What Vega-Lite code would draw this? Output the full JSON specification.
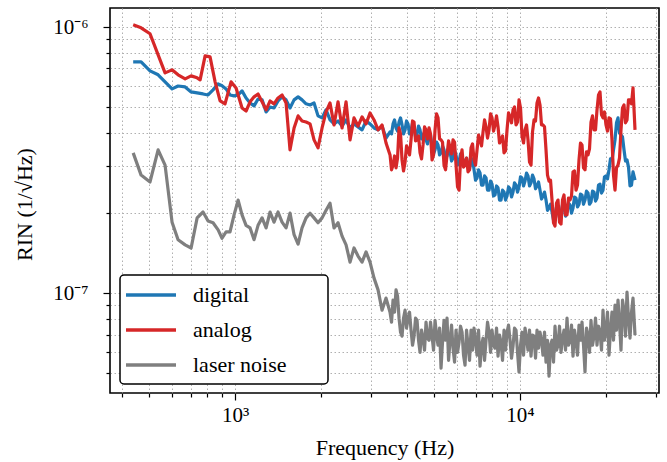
{
"$schema": "https://vega.github.io/schema/vega-lite/v6.json",
"width": 549, "height": 385,
"autosize": "none",
"padding": {"left": 110, "top": 8, "right": 8, "bottom": 69},
"background": "white",
"config": {
 "view": {"stroke": "black", "strokeWidth": 1.6},
 "font": "Liberation Serif",
 "axis": {"domain": false, "tickColor": "black", "tickWidth": 1.2, "grid": true, "gridColor": "#b0b0b0", "gridDash": [1.5, 2.5], "gridWidth": 1, "labelFont": "Liberation Serif", "labelFontSize": 21, "labelColor": "black", "titleFont": "Liberation Serif", "titleFontSize": 22, "titleFontWeight": "normal", "titleColor": "black", "labelOverlap": false, "labelFlush": false, "labelBound": false}
},
"data": {"values": [
{"freq":439,"rin":7.40e-7,"series":"digital"},
{"freq":468,"rin":7.40e-7,"series":"digital"},
{"freq":503,"rin":6.85e-7,"series":"digital"},
{"freq":537,"rin":6.62e-7,"series":"digital"},
{"freq":568,"rin":6.23e-7,"series":"digital"},
{"freq":601,"rin":5.86e-7,"series":"digital"},
{"freq":631,"rin":6.01e-7,"series":"digital"},
{"freq":668,"rin":5.96e-7,"series":"digital"},
{"freq":701,"rin":5.71e-7,"series":"digital"},
{"freq":736,"rin":5.66e-7,"series":"digital"},
{"freq":772,"rin":5.61e-7,"series":"digital"},
{"freq":804,"rin":5.56e-7,"series":"digital"},
{"freq":837,"rin":5.81e-7,"series":"digital"},
{"freq":872,"rin":6.12e-7,"series":"digital"},
{"freq":900,"rin":6.02e-7,"series":"digital"},
{"freq":930,"rin":5.86e-7,"series":"digital"},
{"freq":960,"rin":5.56e-7,"series":"digital"},
{"freq":992,"rin":5.52e-7,"series":"digital"},
{"freq":1025,"rin":5.56e-7,"series":"digital"},
{"freq":1058,"rin":5.76e-7,"series":"digital"},
{"freq":1093,"rin":5.42e-7,"series":"digital"},
{"freq":1129,"rin":5.19e-7,"series":"digital"},
{"freq":1166,"rin":5.06e-7,"series":"digital"},
{"freq":1204,"rin":5.37e-7,"series":"digital"},
{"freq":1244,"rin":5.33e-7,"series":"digital"},
{"freq":1285,"rin":4.80e-7,"series":"digital"},
{"freq":1327,"rin":5.01e-7,"series":"digital"},
{"freq":1370,"rin":4.97e-7,"series":"digital"},
{"freq":1415,"rin":5.28e-7,"series":"digital"},
{"freq":1462,"rin":5.47e-7,"series":"digital"},
{"freq":1510,"rin":5.33e-7,"series":"digital"},
{"freq":1559,"rin":4.97e-7,"series":"digital"},
{"freq":1611,"rin":5.33e-7,"series":"digital"},
{"freq":1664,"rin":5.47e-7,"series":"digital"},
{"freq":1718,"rin":5.33e-7,"series":"digital"},
{"freq":1775,"rin":5.15e-7,"series":"digital"},
{"freq":1833,"rin":5.10e-7,"series":"digital"},
{"freq":1893,"rin":5.19e-7,"series":"digital"},
{"freq":1955,"rin":4.64e-7,"series":"digital"},
{"freq":2020,"rin":4.56e-7,"series":"digital"},
{"freq":2086,"rin":4.89e-7,"series":"digital"},
{"freq":2154,"rin":4.48e-7,"series":"digital"},
{"freq":2225,"rin":4.33e-7,"series":"digital"},
{"freq":2298,"rin":4.44e-7,"series":"digital"},
{"freq":2374,"rin":4.25e-7,"series":"digital"},
{"freq":2452,"rin":4.48e-7,"series":"digital"},
{"freq":2532,"rin":4.18e-7,"series":"digital"},
{"freq":2615,"rin":4.33e-7,"series":"digital"},
{"freq":2701,"rin":4.22e-7,"series":"digital"},
{"freq":2790,"rin":4.11e-7,"series":"digital"},
{"freq":2882,"rin":4.44e-7,"series":"digital"},
{"freq":2976,"rin":4.33e-7,"series":"digital"},
{"freq":3074,"rin":4.18e-7,"series":"digital"},
{"freq":3175,"rin":4.11e-7,"series":"digital"},
{"freq":3279,"rin":4.25e-7,"series":"digital"},
{"freq":3387,"rin":3.83e-7,"series":"digital"},
{"freq":3498,"rin":4.04e-7,"series":"digital"},
{"freq":3584,"rin":4.33e-7,"series":"digital"},
{"freq":3672,"rin":4.18e-7,"series":"digital"},
{"freq":3762,"rin":4.40e-7,"series":"digital"},
{"freq":3854,"rin":4.29e-7,"series":"digital"},
{"freq":3949,"rin":4.11e-7,"series":"digital"},
{"freq":4046,"rin":4.33e-7,"series":"digital"},
{"freq":4145,"rin":4.07e-7,"series":"digital"},
{"freq":4247,"rin":4.22e-7,"series":"digital"},
{"freq":4351,"rin":3.97e-7,"series":"digital"},
{"freq":4458,"rin":4.11e-7,"series":"digital"},
{"freq":4567,"rin":3.90e-7,"series":"digital"},
{"freq":4679,"rin":3.77e-7,"series":"digital"},
{"freq":4794,"rin":3.90e-7,"series":"digital"},
{"freq":4912,"rin":3.58e-7,"series":"digital"},
{"freq":5032,"rin":3.46e-7,"series":"digital"},
{"freq":5156,"rin":3.61e-7,"series":"digital"},
{"freq":5282,"rin":3.37e-7,"series":"digital"},
{"freq":5412,"rin":3.46e-7,"series":"digital"},
{"freq":5545,"rin":3.28e-7,"series":"digital"},
{"freq":5681,"rin":3.40e-7,"series":"digital"},
{"freq":5820,"rin":3.22e-7,"series":"digital"},
{"freq":5963,"rin":3.31e-7,"series":"digital"},
{"freq":6109,"rin":3.11e-7,"series":"digital"},
{"freq":6259,"rin":3.25e-7,"series":"digital"},
{"freq":6413,"rin":3.14e-7,"series":"digital"},
{"freq":6570,"rin":3.01e-7,"series":"digital"},
{"freq":6731,"rin":3.17e-7,"series":"digital"},
{"freq":6896,"rin":2.91e-7,"series":"digital"},
{"freq":7066,"rin":2.71e-7,"series":"digital"},
{"freq":7239,"rin":2.83e-7,"series":"digital"},
{"freq":7417,"rin":2.55e-7,"series":"digital"},
{"freq":7598,"rin":2.71e-7,"series":"digital"},
{"freq":7785,"rin":2.44e-7,"series":"digital"},
{"freq":7976,"rin":2.57e-7,"series":"digital"},
{"freq":8171,"rin":2.34e-7,"series":"digital"},
{"freq":8372,"rin":2.49e-7,"series":"digital"},
{"freq":8577,"rin":2.24e-7,"series":"digital"},
{"freq":8788,"rin":2.40e-7,"series":"digital"},
{"freq":9003,"rin":2.32e-7,"series":"digital"},
{"freq":9224,"rin":2.47e-7,"series":"digital"},
{"freq":9450,"rin":2.40e-7,"series":"digital"},
{"freq":9682,"rin":2.55e-7,"series":"digital"},
{"freq":9919,"rin":2.51e-7,"series":"digital"},
{"freq":10163,"rin":2.71e-7,"series":"digital"},
{"freq":10412,"rin":2.64e-7,"series":"digital"},
{"freq":10667,"rin":2.76e-7,"series":"digital"},
{"freq":10929,"rin":2.60e-7,"series":"digital"},
{"freq":11197,"rin":2.69e-7,"series":"digital"},
{"freq":11472,"rin":2.53e-7,"series":"digital"},
{"freq":11753,"rin":2.44e-7,"series":"digital"},
{"freq":12041,"rin":2.32e-7,"series":"digital"},
{"freq":12337,"rin":2.24e-7,"series":"digital"},
{"freq":12640,"rin":2.09e-7,"series":"digital"},
{"freq":12950,"rin":2.02e-7,"series":"digital"},
{"freq":13267,"rin":1.95e-7,"series":"digital"},
{"freq":13593,"rin":2.05e-7,"series":"digital"},
{"freq":13926,"rin":1.99e-7,"series":"digital"},
{"freq":14268,"rin":2.11e-7,"series":"digital"},
{"freq":14618,"rin":2.02e-7,"series":"digital"},
{"freq":14977,"rin":2.15e-7,"series":"digital"},
{"freq":15344,"rin":2.09e-7,"series":"digital"},
{"freq":15720,"rin":2.28e-7,"series":"digital"},
{"freq":16106,"rin":2.16e-7,"series":"digital"},
{"freq":16501,"rin":2.34e-7,"series":"digital"},
{"freq":16906,"rin":2.24e-7,"series":"digital"},
{"freq":17321,"rin":2.38e-7,"series":"digital"},
{"freq":17746,"rin":2.20e-7,"series":"digital"},
{"freq":18181,"rin":2.40e-7,"series":"digital"},
{"freq":18627,"rin":2.28e-7,"series":"digital"},
{"freq":19084,"rin":2.57e-7,"series":"digital"},
{"freq":19553,"rin":2.44e-7,"series":"digital"},
{"freq":20032,"rin":2.76e-7,"series":"digital"},
{"freq":20524,"rin":2.91e-7,"series":"digital"},
{"freq":21027,"rin":3.17e-7,"series":"digital"},
{"freq":21543,"rin":3.77e-7,"series":"digital"},
{"freq":22072,"rin":4.56e-7,"series":"digital"},
{"freq":22613,"rin":3.93e-7,"series":"digital"},
{"freq":23168,"rin":3.46e-7,"series":"digital"},
{"freq":23737,"rin":3.17e-7,"series":"digital"},
{"freq":24319,"rin":2.53e-7,"series":"digital"},
{"freq":24916,"rin":2.86e-7,"series":"digital"},
{"freq":25323,"rin":2.66e-7,"series":"digital"},
{"freq":3541,"rin":3.97e-7,"series":"digital"},
{"freq":3628,"rin":4.48e-7,"series":"digital"},
{"freq":3717,"rin":4.07e-7,"series":"digital"},
{"freq":3808,"rin":4.56e-7,"series":"digital"},
{"freq":3901,"rin":3.97e-7,"series":"digital"},
{"freq":3997,"rin":4.44e-7,"series":"digital"},
{"freq":4095,"rin":3.97e-7,"series":"digital"},
{"freq":4196,"rin":4.37e-7,"series":"digital"},
{"freq":4299,"rin":3.87e-7,"series":"digital"},
{"freq":4404,"rin":4.25e-7,"series":"digital"},
{"freq":4512,"rin":3.80e-7,"series":"digital"},
{"freq":4623,"rin":4.04e-7,"series":"digital"},
{"freq":4736,"rin":3.64e-7,"series":"digital"},
{"freq":4852,"rin":3.93e-7,"series":"digital"},
{"freq":4972,"rin":3.34e-7,"series":"digital"},
{"freq":5093,"rin":3.70e-7,"series":"digital"},
{"freq":5219,"rin":3.31e-7,"series":"digital"},
{"freq":5346,"rin":3.58e-7,"series":"digital"},
{"freq":5478,"rin":3.20e-7,"series":"digital"},
{"freq":5613,"rin":3.52e-7,"series":"digital"},
{"freq":5750,"rin":3.14e-7,"series":"digital"},
{"freq":5891,"rin":3.43e-7,"series":"digital"},
{"freq":6036,"rin":3.03e-7,"series":"digital"},
{"freq":6183,"rin":3.34e-7,"series":"digital"},
{"freq":6335,"rin":3.03e-7,"series":"digital"},
{"freq":6491,"rin":3.22e-7,"series":"digital"},
{"freq":6650,"rin":2.93e-7,"series":"digital"},
{"freq":6813,"rin":3.20e-7,"series":"digital"},
{"freq":6980,"rin":2.66e-7,"series":"digital"},
{"freq":7152,"rin":2.91e-7,"series":"digital"},
{"freq":7327,"rin":2.55e-7,"series":"digital"},
{"freq":7507,"rin":2.76e-7,"series":"digital"},
{"freq":7691,"rin":2.44e-7,"series":"digital"},
{"freq":7880,"rin":2.64e-7,"series":"digital"},
{"freq":8073,"rin":2.32e-7,"series":"digital"},
{"freq":8271,"rin":2.53e-7,"series":"digital"},
{"freq":8474,"rin":2.24e-7,"series":"digital"},
{"freq":8682,"rin":2.44e-7,"series":"digital"},
{"freq":8895,"rin":2.24e-7,"series":"digital"},
{"freq":9113,"rin":2.51e-7,"series":"digital"},
{"freq":9336,"rin":2.30e-7,"series":"digital"},
{"freq":9565,"rin":2.60e-7,"series":"digital"},
{"freq":9800,"rin":2.40e-7,"series":"digital"},
{"freq":10040,"rin":2.74e-7,"series":"digital"},
{"freq":10287,"rin":2.53e-7,"series":"digital"},
{"freq":10539,"rin":2.83e-7,"series":"digital"},
{"freq":10797,"rin":2.53e-7,"series":"digital"},
{"freq":11062,"rin":2.78e-7,"series":"digital"},
{"freq":11334,"rin":2.47e-7,"series":"digital"},
{"freq":11612,"rin":2.62e-7,"series":"digital"},
{"freq":11896,"rin":2.26e-7,"series":"digital"},
{"freq":12188,"rin":2.40e-7,"series":"digital"},
{"freq":12487,"rin":2.05e-7,"series":"digital"},
{"freq":12794,"rin":2.16e-7,"series":"digital"},
{"freq":13108,"rin":1.88e-7,"series":"digital"},
{"freq":13429,"rin":2.11e-7,"series":"digital"},
{"freq":13759,"rin":1.92e-7,"series":"digital"},
{"freq":14096,"rin":2.15e-7,"series":"digital"},
{"freq":14442,"rin":1.95e-7,"series":"digital"},
{"freq":14796,"rin":2.18e-7,"series":"digital"},
{"freq":15160,"rin":2.00e-7,"series":"digital"},
{"freq":15531,"rin":2.30e-7,"series":"digital"},
{"freq":15912,"rin":2.11e-7,"series":"digital"},
{"freq":16302,"rin":2.36e-7,"series":"digital"},
{"freq":16702,"rin":2.16e-7,"series":"digital"},
{"freq":17112,"rin":2.42e-7,"series":"digital"},
{"freq":17532,"rin":2.16e-7,"series":"digital"},
{"freq":17962,"rin":2.42e-7,"series":"digital"},
{"freq":18403,"rin":2.22e-7,"series":"digital"},
{"freq":18854,"rin":2.55e-7,"series":"digital"},
{"freq":19317,"rin":2.38e-7,"series":"digital"},
{"freq":19791,"rin":2.74e-7,"series":"digital"},
{"freq":20276,"rin":2.69e-7,"series":"digital"},
{"freq":20774,"rin":3.20e-7,"series":"digital"},
{"freq":21283,"rin":3.46e-7,"series":"digital"},
{"freq":21806,"rin":4.37e-7,"series":"digital"},
{"freq":22341,"rin":4.00e-7,"series":"digital"},
{"freq":22889,"rin":3.87e-7,"series":"digital"},
{"freq":23450,"rin":3.14e-7,"series":"digital"},
{"freq":24026,"rin":2.98e-7,"series":"digital"},
{"freq":24616,"rin":2.55e-7,"series":"digital"},
{"freq":439,"rin":1.02e-6,"series":"analog"},
{"freq":468,"rin":9.94e-7,"series":"analog"},
{"freq":503,"rin":9.44e-7,"series":"analog"},
{"freq":537,"rin":7.87e-7,"series":"analog"},
{"freq":568,"rin":6.73e-7,"series":"analog"},
{"freq":601,"rin":6.91e-7,"series":"analog"},
{"freq":631,"rin":6.62e-7,"series":"analog"},
{"freq":668,"rin":6.39e-7,"series":"analog"},
{"freq":701,"rin":6.56e-7,"series":"analog"},
{"freq":736,"rin":6.45e-7,"series":"analog"},
{"freq":754,"rin":6.34e-7,"series":"analog"},
{"freq":785,"rin":7.80e-7,"series":"analog"},
{"freq":817,"rin":7.73e-7,"series":"analog"},
{"freq":851,"rin":6.23e-7,"series":"analog"},
{"freq":886,"rin":5.28e-7,"series":"analog"},
{"freq":922,"rin":5.15e-7,"series":"analog"},
{"freq":968,"rin":6.23e-7,"series":"analog"},
{"freq":1008,"rin":5.91e-7,"series":"analog"},
{"freq":1058,"rin":4.97e-7,"series":"analog"},
{"freq":1093,"rin":4.84e-7,"series":"analog"},
{"freq":1129,"rin":5.24e-7,"series":"analog"},
{"freq":1166,"rin":5.47e-7,"series":"analog"},
{"freq":1204,"rin":5.61e-7,"series":"analog"},
{"freq":1244,"rin":5.24e-7,"series":"analog"},
{"freq":1285,"rin":4.89e-7,"series":"analog"},
{"freq":1327,"rin":5.28e-7,"series":"analog"},
{"freq":1370,"rin":5.15e-7,"series":"analog"},
{"freq":1415,"rin":5.42e-7,"series":"analog"},
{"freq":1462,"rin":5.56e-7,"series":"analog"},
{"freq":1510,"rin":5.19e-7,"series":"analog"},
{"freq":1559,"rin":3.46e-7,"series":"analog"},
{"freq":1611,"rin":4.18e-7,"series":"analog"},
{"freq":1664,"rin":4.64e-7,"series":"analog"},
{"freq":1718,"rin":4.44e-7,"series":"analog"},
{"freq":1775,"rin":4.40e-7,"series":"analog"},
{"freq":1833,"rin":4.33e-7,"series":"analog"},
{"freq":1893,"rin":3.77e-7,"series":"analog"},
{"freq":1955,"rin":3.52e-7,"series":"analog"},
{"freq":2020,"rin":4.18e-7,"series":"analog"},
{"freq":2086,"rin":4.80e-7,"series":"analog"},
{"freq":2154,"rin":5.19e-7,"series":"analog"},
{"freq":2225,"rin":4.29e-7,"series":"analog"},
{"freq":2298,"rin":5.24e-7,"series":"analog"},
{"freq":2374,"rin":4.18e-7,"series":"analog"},
{"freq":2452,"rin":5.24e-7,"series":"analog"},
{"freq":2532,"rin":3.77e-7,"series":"analog"},
{"freq":2615,"rin":4.56e-7,"series":"analog"},
{"freq":2701,"rin":4.25e-7,"series":"analog"},
{"freq":2790,"rin":4.60e-7,"series":"analog"},
{"freq":2882,"rin":4.33e-7,"series":"analog"},
{"freq":2976,"rin":4.76e-7,"series":"analog"},
{"freq":3074,"rin":4.48e-7,"series":"analog"},
{"freq":3175,"rin":4.11e-7,"series":"analog"},
{"freq":3279,"rin":4.29e-7,"series":"analog"},
{"freq":3387,"rin":3.67e-7,"series":"analog"},
{"freq":3498,"rin":3.31e-7,"series":"analog"},
{"freq":3584,"rin":3.03e-7,"series":"analog"},
{"freq":3672,"rin":2.96e-7,"series":"analog"},
{"freq":3762,"rin":4.18e-7,"series":"analog"},
{"freq":3854,"rin":3.17e-7,"series":"analog"},
{"freq":3949,"rin":3.11e-7,"series":"analog"},
{"freq":4046,"rin":3.46e-7,"series":"analog"},
{"freq":4145,"rin":3.77e-7,"series":"analog"},
{"freq":4247,"rin":4.40e-7,"series":"analog"},
{"freq":4351,"rin":3.77e-7,"series":"analog"},
{"freq":4458,"rin":3.37e-7,"series":"analog"},
{"freq":4567,"rin":3.61e-7,"series":"analog"},
{"freq":4679,"rin":4.11e-7,"series":"analog"},
{"freq":4794,"rin":4.18e-7,"series":"analog"},
{"freq":4912,"rin":3.17e-7,"series":"analog"},
{"freq":5032,"rin":4.11e-7,"series":"analog"},
{"freq":5156,"rin":4.56e-7,"series":"analog"},
{"freq":5282,"rin":3.77e-7,"series":"analog"},
{"freq":5412,"rin":3.03e-7,"series":"analog"},
{"freq":5545,"rin":3.31e-7,"series":"analog"},
{"freq":5681,"rin":3.52e-7,"series":"analog"},
{"freq":5820,"rin":3.77e-7,"series":"analog"},
{"freq":5963,"rin":3.03e-7,"series":"analog"},
{"freq":6109,"rin":2.44e-7,"series":"analog"},
{"freq":6259,"rin":3.46e-7,"series":"analog"},
{"freq":6413,"rin":3.03e-7,"series":"analog"},
{"freq":6570,"rin":2.86e-7,"series":"analog"},
{"freq":6731,"rin":3.52e-7,"series":"analog"},
{"freq":6896,"rin":3.17e-7,"series":"analog"},
{"freq":7066,"rin":3.46e-7,"series":"analog"},
{"freq":7239,"rin":3.77e-7,"series":"analog"},
{"freq":7417,"rin":4.04e-7,"series":"analog"},
{"freq":7598,"rin":4.22e-7,"series":"analog"},
{"freq":7785,"rin":4.11e-7,"series":"analog"},
{"freq":7976,"rin":4.56e-7,"series":"analog"},
{"freq":8171,"rin":4.29e-7,"series":"analog"},
{"freq":8372,"rin":4.22e-7,"series":"analog"},
{"freq":8577,"rin":3.77e-7,"series":"analog"},
{"freq":8788,"rin":3.37e-7,"series":"analog"},
{"freq":9003,"rin":4.11e-7,"series":"analog"},
{"freq":9224,"rin":4.60e-7,"series":"analog"},
{"freq":9450,"rin":4.89e-7,"series":"analog"},
{"freq":9682,"rin":4.29e-7,"series":"analog"},
{"freq":9919,"rin":5.33e-7,"series":"analog"},
{"freq":10163,"rin":3.90e-7,"series":"analog"},
{"freq":10412,"rin":4.11e-7,"series":"analog"},
{"freq":10667,"rin":3.77e-7,"series":"analog"},
{"freq":10929,"rin":3.03e-7,"series":"analog"},
{"freq":11197,"rin":4.48e-7,"series":"analog"},
{"freq":11472,"rin":5.19e-7,"series":"analog"},
{"freq":11753,"rin":5.10e-7,"series":"analog"},
{"freq":12041,"rin":4.29e-7,"series":"analog"},
{"freq":12337,"rin":3.46e-7,"series":"analog"},
{"freq":12640,"rin":2.64e-7,"series":"analog"},
{"freq":12950,"rin":2.24e-7,"series":"analog"},
{"freq":13267,"rin":1.79e-7,"series":"analog"},
{"freq":13593,"rin":2.24e-7,"series":"analog"},
{"freq":13926,"rin":1.82e-7,"series":"analog"},
{"freq":14268,"rin":2.34e-7,"series":"analog"},
{"freq":14618,"rin":1.97e-7,"series":"analog"},
{"freq":14977,"rin":2.24e-7,"series":"analog"},
{"freq":15344,"rin":2.86e-7,"series":"analog"},
{"freq":15720,"rin":2.44e-7,"series":"analog"},
{"freq":16106,"rin":3.17e-7,"series":"analog"},
{"freq":16501,"rin":3.61e-7,"series":"analog"},
{"freq":16906,"rin":2.91e-7,"series":"analog"},
{"freq":17321,"rin":3.31e-7,"series":"analog"},
{"freq":17746,"rin":4.40e-7,"series":"analog"},
{"freq":18181,"rin":4.11e-7,"series":"analog"},
{"freq":18627,"rin":4.89e-7,"series":"analog"},
{"freq":19084,"rin":5.71e-7,"series":"analog"},
{"freq":19553,"rin":4.56e-7,"series":"analog"},
{"freq":20032,"rin":4.29e-7,"series":"analog"},
{"freq":20524,"rin":4.56e-7,"series":"analog"},
{"freq":21027,"rin":3.77e-7,"series":"analog"},
{"freq":21543,"rin":2.44e-7,"series":"analog"},
{"freq":22072,"rin":3.03e-7,"series":"analog"},
{"freq":22613,"rin":4.11e-7,"series":"analog"},
{"freq":23168,"rin":5.10e-7,"series":"analog"},
{"freq":23737,"rin":4.48e-7,"series":"analog"},
{"freq":24319,"rin":5.33e-7,"series":"analog"},
{"freq":24916,"rin":5.91e-7,"series":"analog"},
{"freq":25323,"rin":4.11e-7,"series":"analog"},
{"freq":3541,"rin":2.91e-7,"series":"analog"},
{"freq":3628,"rin":3.28e-7,"series":"analog"},
{"freq":3717,"rin":3.22e-7,"series":"analog"},
{"freq":3808,"rin":3.97e-7,"series":"analog"},
{"freq":3901,"rin":2.88e-7,"series":"analog"},
{"freq":3997,"rin":3.58e-7,"series":"analog"},
{"freq":4095,"rin":3.31e-7,"series":"analog"},
{"freq":4196,"rin":4.44e-7,"series":"analog"},
{"freq":4299,"rin":3.74e-7,"series":"analog"},
{"freq":4404,"rin":3.90e-7,"series":"analog"},
{"freq":4512,"rin":3.20e-7,"series":"analog"},
{"freq":4623,"rin":4.22e-7,"series":"analog"},
{"freq":4736,"rin":3.80e-7,"series":"analog"},
{"freq":4852,"rin":3.97e-7,"series":"analog"},
{"freq":4972,"rin":3.31e-7,"series":"analog"},
{"freq":5093,"rin":4.72e-7,"series":"analog"},
{"freq":5219,"rin":3.80e-7,"series":"analog"},
{"freq":5346,"rin":3.70e-7,"series":"analog"},
{"freq":5478,"rin":2.91e-7,"series":"analog"},
{"freq":5613,"rin":3.74e-7,"series":"analog"},
{"freq":5750,"rin":3.34e-7,"series":"analog"},
{"freq":5891,"rin":3.70e-7,"series":"analog"},
{"freq":6036,"rin":2.51e-7,"series":"analog"},
{"freq":6183,"rin":3.17e-7,"series":"analog"},
{"freq":6335,"rin":2.98e-7,"series":"analog"},
{"freq":6491,"rin":3.22e-7,"series":"analog"},
{"freq":6650,"rin":2.91e-7,"series":"analog"},
{"freq":6813,"rin":3.64e-7,"series":"analog"},
{"freq":6980,"rin":3.03e-7,"series":"analog"},
{"freq":7152,"rin":3.93e-7,"series":"analog"},
{"freq":7327,"rin":3.58e-7,"series":"analog"},
{"freq":7507,"rin":4.48e-7,"series":"analog"},
{"freq":7691,"rin":3.83e-7,"series":"analog"},
{"freq":7880,"rin":4.72e-7,"series":"analog"},
{"freq":8073,"rin":4.07e-7,"series":"analog"},
{"freq":8271,"rin":4.64e-7,"series":"analog"},
{"freq":8474,"rin":3.67e-7,"series":"analog"},
{"freq":8682,"rin":3.90e-7,"series":"analog"},
{"freq":8895,"rin":3.43e-7,"series":"analog"},
{"freq":9113,"rin":4.76e-7,"series":"analog"},
{"freq":9336,"rin":4.37e-7,"series":"analog"},
{"freq":9565,"rin":5.01e-7,"series":"analog"},
{"freq":9800,"rin":4.40e-7,"series":"analog"},
{"freq":10040,"rin":4.97e-7,"series":"analog"},
{"freq":10287,"rin":3.67e-7,"series":"analog"},
{"freq":10539,"rin":4.29e-7,"series":"analog"},
{"freq":10797,"rin":3.11e-7,"series":"analog"},
{"freq":11062,"rin":4.04e-7,"series":"analog"},
{"freq":11334,"rin":4.44e-7,"series":"analog"},
{"freq":11612,"rin":5.42e-7,"series":"analog"},
{"freq":11896,"rin":4.29e-7,"series":"analog"},
{"freq":12188,"rin":4.22e-7,"series":"analog"},
{"freq":12487,"rin":2.78e-7,"series":"analog"},
{"freq":12794,"rin":2.66e-7,"series":"analog"},
{"freq":13108,"rin":1.84e-7,"series":"analog"},
{"freq":13429,"rin":2.18e-7,"series":"analog"},
{"freq":13759,"rin":1.85e-7,"series":"analog"},
{"freq":14096,"rin":2.24e-7,"series":"analog"},
{"freq":14442,"rin":1.97e-7,"series":"analog"},
{"freq":14796,"rin":2.28e-7,"series":"analog"},
{"freq":15160,"rin":2.32e-7,"series":"analog"},
{"freq":15531,"rin":2.88e-7,"series":"analog"},
{"freq":15912,"rin":2.55e-7,"series":"analog"},
{"freq":16302,"rin":3.67e-7,"series":"analog"},
{"freq":16702,"rin":2.96e-7,"series":"analog"},
{"freq":17112,"rin":3.40e-7,"series":"analog"},
{"freq":17532,"rin":3.49e-7,"series":"analog"},
{"freq":17962,"rin":4.64e-7,"series":"analog"},
{"freq":18403,"rin":4.11e-7,"series":"analog"},
{"freq":18854,"rin":5.56e-7,"series":"analog"},
{"freq":19317,"rin":4.68e-7,"series":"analog"},
{"freq":19791,"rin":4.80e-7,"series":"analog"},
{"freq":20276,"rin":4.07e-7,"series":"analog"},
{"freq":20774,"rin":4.52e-7,"series":"analog"},
{"freq":21283,"rin":2.78e-7,"series":"analog"},
{"freq":21806,"rin":2.96e-7,"series":"analog"},
{"freq":22341,"rin":3.22e-7,"series":"analog"},
{"freq":22889,"rin":4.97e-7,"series":"analog"},
{"freq":23450,"rin":4.37e-7,"series":"analog"},
{"freq":24026,"rin":5.33e-7,"series":"analog"},
{"freq":24616,"rin":5.15e-7,"series":"analog"},
{"freq":439,"rin":3.37e-7,"series":"laser noise"},
{"freq":468,"rin":2.78e-7,"series":"laser noise"},
{"freq":503,"rin":2.62e-7,"series":"laser noise"},
{"freq":537,"rin":3.46e-7,"series":"laser noise"},
{"freq":568,"rin":3.03e-7,"series":"laser noise"},
{"freq":601,"rin":1.85e-7,"series":"laser noise"},
{"freq":631,"rin":1.59e-7,"series":"laser noise"},
{"freq":668,"rin":1.52e-7,"series":"laser noise"},
{"freq":701,"rin":1.48e-7,"series":"laser noise"},
{"freq":736,"rin":1.92e-7,"series":"laser noise"},
{"freq":772,"rin":2.02e-7,"series":"laser noise"},
{"freq":804,"rin":1.87e-7,"series":"laser noise"},
{"freq":837,"rin":1.84e-7,"series":"laser noise"},
{"freq":872,"rin":1.73e-7,"series":"laser noise"},
{"freq":900,"rin":1.61e-7,"series":"laser noise"},
{"freq":930,"rin":1.70e-7,"series":"laser noise"},
{"freq":960,"rin":1.70e-7,"series":"laser noise"},
{"freq":992,"rin":1.97e-7,"series":"laser noise"},
{"freq":1025,"rin":2.24e-7,"series":"laser noise"},
{"freq":1058,"rin":1.97e-7,"series":"laser noise"},
{"freq":1093,"rin":1.80e-7,"series":"laser noise"},
{"freq":1129,"rin":1.76e-7,"series":"laser noise"},
{"freq":1166,"rin":1.59e-7,"series":"laser noise"},
{"freq":1204,"rin":1.80e-7,"series":"laser noise"},
{"freq":1244,"rin":1.92e-7,"series":"laser noise"},
{"freq":1285,"rin":1.76e-7,"series":"laser noise"},
{"freq":1327,"rin":2.02e-7,"series":"laser noise"},
{"freq":1370,"rin":1.85e-7,"series":"laser noise"},
{"freq":1415,"rin":2.02e-7,"series":"laser noise"},
{"freq":1462,"rin":1.85e-7,"series":"laser noise"},
{"freq":1510,"rin":1.76e-7,"series":"laser noise"},
{"freq":1559,"rin":2.00e-7,"series":"laser noise"},
{"freq":1611,"rin":1.66e-7,"series":"laser noise"},
{"freq":1664,"rin":1.53e-7,"series":"laser noise"},
{"freq":1718,"rin":1.76e-7,"series":"laser noise"},
{"freq":1775,"rin":1.92e-7,"series":"laser noise"},
{"freq":1833,"rin":2.00e-7,"series":"laser noise"},
{"freq":1893,"rin":1.92e-7,"series":"laser noise"},
{"freq":1955,"rin":1.84e-7,"series":"laser noise"},
{"freq":2020,"rin":1.92e-7,"series":"laser noise"},
{"freq":2086,"rin":2.05e-7,"series":"laser noise"},
{"freq":2154,"rin":2.18e-7,"series":"laser noise"},
{"freq":2225,"rin":1.76e-7,"series":"laser noise"},
{"freq":2298,"rin":1.84e-7,"series":"laser noise"},
{"freq":2374,"rin":1.64e-7,"series":"laser noise"},
{"freq":2452,"rin":1.52e-7,"series":"laser noise"},
{"freq":2532,"rin":1.31e-7,"series":"laser noise"},
{"freq":2615,"rin":1.48e-7,"series":"laser noise"},
{"freq":2701,"rin":1.38e-7,"series":"laser noise"},
{"freq":2790,"rin":1.31e-7,"series":"laser noise"},
{"freq":2882,"rin":1.43e-7,"series":"laser noise"},
{"freq":2976,"rin":1.31e-7,"series":"laser noise"},
{"freq":3074,"rin":1.14e-7,"series":"laser noise"},
{"freq":3175,"rin":1.03e-7,"series":"laser noise"},
{"freq":3279,"rin":8.64e-8,"series":"laser noise"},
{"freq":3387,"rin":9.59e-8,"series":"laser noise"},
{"freq":3498,"rin":8.49e-8,"series":"laser noise"},
{"freq":3584,"rin":9.42e-8,"series":"laser noise"},
{"freq":3672,"rin":1.03e-7,"series":"laser noise"},
{"freq":3762,"rin":8.06e-8,"series":"laser noise"},
{"freq":3854,"rin":6.90e-8,"series":"laser noise"},
{"freq":3949,"rin":8.64e-8,"series":"laser noise"},
{"freq":4046,"rin":8.06e-8,"series":"laser noise"},
{"freq":4145,"rin":7.27e-8,"series":"laser noise"},
{"freq":4247,"rin":6.90e-8,"series":"laser noise"},
{"freq":4351,"rin":7.92e-8,"series":"laser noise"},
{"freq":4458,"rin":6.00e-8,"series":"laser noise"},
{"freq":4567,"rin":6.78e-8,"series":"laser noise"},
{"freq":4679,"rin":7.79e-8,"series":"laser noise"},
{"freq":4794,"rin":6.66e-8,"series":"laser noise"},
{"freq":4912,"rin":6.90e-8,"series":"laser noise"},
{"freq":5032,"rin":7.92e-8,"series":"laser noise"},
{"freq":5156,"rin":6.38e-8,"series":"laser noise"},
{"freq":5282,"rin":5.23e-8,"series":"laser noise"},
{"freq":5412,"rin":7.92e-8,"series":"laser noise"},
{"freq":5545,"rin":8.06e-8,"series":"laser noise"},
{"freq":5681,"rin":6.66e-8,"series":"laser noise"},
{"freq":5820,"rin":6.22e-8,"series":"laser noise"},
{"freq":5963,"rin":7.27e-8,"series":"laser noise"},
{"freq":6109,"rin":6.55e-8,"series":"laser noise"},
{"freq":6259,"rin":7.14e-8,"series":"laser noise"},
{"freq":6413,"rin":5.37e-8,"series":"laser noise"},
{"freq":6570,"rin":6.38e-8,"series":"laser noise"},
{"freq":6731,"rin":7.27e-8,"series":"laser noise"},
{"freq":6896,"rin":7.40e-8,"series":"laser noise"},
{"freq":7066,"rin":5.85e-8,"series":"laser noise"},
{"freq":7239,"rin":5.32e-8,"series":"laser noise"},
{"freq":7417,"rin":6.78e-8,"series":"laser noise"},
{"freq":7598,"rin":6.66e-8,"series":"laser noise"},
{"freq":7785,"rin":7.14e-8,"series":"laser noise"},
{"freq":7976,"rin":7.27e-8,"series":"laser noise"},
{"freq":8171,"rin":6.22e-8,"series":"laser noise"},
{"freq":8372,"rin":5.80e-8,"series":"laser noise"},
{"freq":8577,"rin":6.55e-8,"series":"laser noise"},
{"freq":8788,"rin":7.27e-8,"series":"laser noise"},
{"freq":9003,"rin":7.14e-8,"series":"laser noise"},
{"freq":9224,"rin":6.66e-8,"series":"laser noise"},
{"freq":9450,"rin":6.33e-8,"series":"laser noise"},
{"freq":9682,"rin":7.27e-8,"series":"laser noise"},
{"freq":9919,"rin":5.06e-8,"series":"laser noise"},
{"freq":10163,"rin":7.14e-8,"series":"laser noise"},
{"freq":10412,"rin":7.40e-8,"series":"laser noise"},
{"freq":10667,"rin":6.11e-8,"series":"laser noise"},
{"freq":10929,"rin":5.80e-8,"series":"laser noise"},
{"freq":11197,"rin":6.90e-8,"series":"laser noise"},
{"freq":11472,"rin":7.27e-8,"series":"laser noise"},
{"freq":11753,"rin":7.14e-8,"series":"laser noise"},
{"freq":12041,"rin":5.85e-8,"series":"laser noise"},
{"freq":12337,"rin":5.51e-8,"series":"laser noise"},
{"freq":12640,"rin":4.88e-8,"series":"laser noise"},
{"freq":12950,"rin":6.66e-8,"series":"laser noise"},
{"freq":13267,"rin":7.52e-8,"series":"laser noise"},
{"freq":13593,"rin":6.38e-8,"series":"laser noise"},
{"freq":13926,"rin":6.00e-8,"series":"laser noise"},
{"freq":14268,"rin":7.27e-8,"series":"laser noise"},
{"freq":14618,"rin":8.06e-8,"series":"laser noise"},
{"freq":14977,"rin":6.66e-8,"series":"laser noise"},
{"freq":15344,"rin":5.80e-8,"series":"laser noise"},
{"freq":15720,"rin":6.66e-8,"series":"laser noise"},
{"freq":16106,"rin":7.59e-8,"series":"laser noise"},
{"freq":16501,"rin":7.79e-8,"series":"laser noise"},
{"freq":16906,"rin":5.06e-8,"series":"laser noise"},
{"freq":17321,"rin":6.96e-8,"series":"laser noise"},
{"freq":17746,"rin":7.92e-8,"series":"laser noise"},
{"freq":18181,"rin":6.90e-8,"series":"laser noise"},
{"freq":18627,"rin":6.38e-8,"series":"laser noise"},
{"freq":19084,"rin":7.14e-8,"series":"laser noise"},
{"freq":19553,"rin":8.64e-8,"series":"laser noise"},
{"freq":20032,"rin":7.27e-8,"series":"laser noise"},
{"freq":20524,"rin":5.85e-8,"series":"laser noise"},
{"freq":21027,"rin":8.49e-8,"series":"laser noise"},
{"freq":21543,"rin":9.02e-8,"series":"laser noise"},
{"freq":22072,"rin":9.42e-8,"series":"laser noise"},
{"freq":22613,"rin":6.11e-8,"series":"laser noise"},
{"freq":23168,"rin":8.64e-8,"series":"laser noise"},
{"freq":23737,"rin":1.01e-7,"series":"laser noise"},
{"freq":24319,"rin":6.78e-8,"series":"laser noise"},
{"freq":24916,"rin":9.59e-8,"series":"laser noise"},
{"freq":25323,"rin":6.96e-8,"series":"laser noise"},
{"freq":3541,"rin":7.79e-8,"series":"laser noise"},
{"freq":3628,"rin":8.49e-8,"series":"laser noise"},
{"freq":3717,"rin":9.76e-8,"series":"laser noise"},
{"freq":3808,"rin":7.14e-8,"series":"laser noise"},
{"freq":3901,"rin":8.06e-8,"series":"laser noise"},
{"freq":3997,"rin":7.40e-8,"series":"laser noise"},
{"freq":4095,"rin":8.49e-8,"series":"laser noise"},
{"freq":4196,"rin":6.38e-8,"series":"laser noise"},
{"freq":4299,"rin":8.06e-8,"series":"laser noise"},
{"freq":4404,"rin":6.66e-8,"series":"laser noise"},
{"freq":4512,"rin":7.27e-8,"series":"laser noise"},
{"freq":4623,"rin":6.11e-8,"series":"laser noise"},
{"freq":4736,"rin":6.78e-8,"series":"laser noise"},
{"freq":4852,"rin":7.79e-8,"series":"laser noise"},
{"freq":4972,"rin":6.11e-8,"series":"laser noise"},
{"freq":5093,"rin":6.96e-8,"series":"laser noise"},
{"freq":5219,"rin":7.40e-8,"series":"laser noise"},
{"freq":5346,"rin":6.55e-8,"series":"laser noise"},
{"freq":5478,"rin":6.66e-8,"series":"laser noise"},
{"freq":5613,"rin":5.60e-8,"series":"laser noise"},
{"freq":5750,"rin":7.59e-8,"series":"laser noise"},
{"freq":5891,"rin":5.51e-8,"series":"laser noise"},
{"freq":6036,"rin":6.00e-8,"series":"laser noise"},
{"freq":6183,"rin":7.52e-8,"series":"laser noise"},
{"freq":6335,"rin":5.85e-8,"series":"laser noise"},
{"freq":6491,"rin":7.27e-8,"series":"laser noise"},
{"freq":6650,"rin":5.60e-8,"series":"laser noise"},
{"freq":6813,"rin":6.11e-8,"series":"laser noise"},
{"freq":6980,"rin":6.66e-8,"series":"laser noise"},
{"freq":7152,"rin":7.27e-8,"series":"laser noise"},
{"freq":7327,"rin":6.38e-8,"series":"laser noise"},
{"freq":7507,"rin":5.60e-8,"series":"laser noise"},
{"freq":7691,"rin":7.79e-8,"series":"laser noise"},
{"freq":7880,"rin":6.00e-8,"series":"laser noise"},
{"freq":8073,"rin":6.38e-8,"series":"laser noise"},
{"freq":8271,"rin":7.40e-8,"series":"laser noise"},
{"freq":8474,"rin":6.96e-8,"series":"laser noise"},
{"freq":8682,"rin":5.60e-8,"series":"laser noise"},
{"freq":8895,"rin":6.11e-8,"series":"laser noise"},
{"freq":9113,"rin":7.59e-8,"series":"laser noise"},
{"freq":9336,"rin":5.70e-8,"series":"laser noise"},
{"freq":9565,"rin":7.40e-8,"series":"laser noise"},
{"freq":9800,"rin":6.00e-8,"series":"laser noise"},
{"freq":10040,"rin":6.38e-8,"series":"laser noise"},
{"freq":10287,"rin":5.85e-8,"series":"laser noise"},
{"freq":10539,"rin":6.78e-8,"series":"laser noise"},
{"freq":10797,"rin":7.27e-8,"series":"laser noise"},
{"freq":11062,"rin":6.96e-8,"series":"laser noise"},
{"freq":11334,"rin":5.70e-8,"series":"laser noise"},
{"freq":11612,"rin":6.22e-8,"series":"laser noise"},
{"freq":11896,"rin":6.66e-8,"series":"laser noise"},
{"freq":12188,"rin":7.14e-8,"series":"laser noise"},
{"freq":12487,"rin":6.66e-8,"series":"laser noise"},
{"freq":12794,"rin":6.38e-8,"series":"laser noise"},
{"freq":13108,"rin":5.51e-8,"series":"laser noise"},
{"freq":13429,"rin":6.11e-8,"series":"laser noise"},
{"freq":13759,"rin":7.52e-8,"series":"laser noise"},
{"freq":14096,"rin":6.78e-8,"series":"laser noise"},
{"freq":14442,"rin":6.11e-8,"series":"laser noise"},
{"freq":14796,"rin":6.38e-8,"series":"laser noise"},
{"freq":15160,"rin":7.59e-8,"series":"laser noise"},
{"freq":15531,"rin":7.27e-8,"series":"laser noise"},
{"freq":15912,"rin":5.85e-8,"series":"laser noise"},
{"freq":16302,"rin":6.66e-8,"series":"laser noise"},
{"freq":16702,"rin":6.38e-8,"series":"laser noise"},
{"freq":17112,"rin":7.40e-8,"series":"laser noise"},
{"freq":17532,"rin":6.00e-8,"series":"laser noise"},
{"freq":17962,"rin":6.38e-8,"series":"laser noise"},
{"freq":18403,"rin":8.06e-8,"series":"laser noise"},
{"freq":18854,"rin":7.52e-8,"series":"laser noise"},
{"freq":19317,"rin":6.11e-8,"series":"laser noise"},
{"freq":19791,"rin":6.66e-8,"series":"laser noise"},
{"freq":20276,"rin":8.49e-8,"series":"laser noise"},
{"freq":20774,"rin":7.27e-8,"series":"laser noise"},
{"freq":21283,"rin":6.66e-8,"series":"laser noise"},
{"freq":21806,"rin":7.27e-8,"series":"laser noise"},
{"freq":22341,"rin":7.79e-8,"series":"laser noise"},
{"freq":22889,"rin":9.42e-8,"series":"laser noise"},
{"freq":23450,"rin":6.90e-8,"series":"laser noise"},
{"freq":24026,"rin":8.06e-8,"series":"laser noise"},
{"freq":24616,"rin":8.49e-8,"series":"laser noise"}
]},
"mark": {"type": "line", "strokeWidth": 3.2, "strokeJoin": "round", "clip": true},
"encoding": {
 "x": {"field": "freq", "type": "quantitative",
  "scale": {"type": "log", "domain": [364, 30740], "nice": false},
  "axis": {"title": "Frequency (Hz)",
   "values": [400,500,600,700,800,900,1000,2000,3000,4000,5000,6000,7000,8000,9000,10000,20000,30000],
   "labelExpr": "datum.value == 1000 ? '10³' : (datum.value == 10000 ? '10⁴' : '')",
   "tickSize": {"condition": {"test": "datum.value == 1000 || datum.value == 10000", "value": 7}, "value": 4},
   "labelPadding": 4, "titleY": 54, "titleBaseline": "middle"}},
 "y": {"field": "rin", "type": "quantitative",
  "scale": {"type": "log", "domain": [4.22e-8, 1.18e-6], "nice": false},
  "axis": {"title": "RIN (1/√Hz)",
   "values": [5e-8,6e-8,7e-8,8e-8,9e-8,1e-7,2e-7,3e-7,4e-7,5e-7,6e-7,7e-7,8e-7,9e-7,1e-6],
   "labelExpr": "datum.value > 0.00000095 ? '10⁻⁶' : ((datum.value > 0.000000095 && datum.value < 0.000000105) ? '10⁻⁷' : '')",
   "tickSize": {"condition": {"test": "datum.value > 0.00000095 || (datum.value > 0.000000095 && datum.value < 0.000000105)", "value": 7}, "value": 4},
   "labelPadding": 15, "titleX": -86, "titleY": 196, "titleAngle": -90, "titleAlign": "center", "titleBaseline": "middle"}},
 "color": {"field": "series", "type": "nominal",
  "scale": {"domain": ["digital", "analog", "laser noise"], "range": ["#1f77b4", "#d62728", "#7f7f7f"]},
  "legend": {"title": null, "orient": "none", "legendX": 10, "legendY": 267,
   "symbolType": "M-2.5,0H2.5", "symbolSize": 400, "symbolStrokeWidth": 3.5, "symbolOffset": 11,
   "labelOffset": 30, "labelFontSize": 22, "labelFont": "Liberation Serif", "labelColor": "black",
   "rowPadding": 12, "padding": 8, "strokeColor": "black", "fillColor": "white", "cornerRadius": 4,
   "labelExpr": "datum.label + '\u2003\u2002\u200b'",
   "encode": {"legend": {"update": {"strokeWidth": {"value": 1.5}}}}}}
}
}
